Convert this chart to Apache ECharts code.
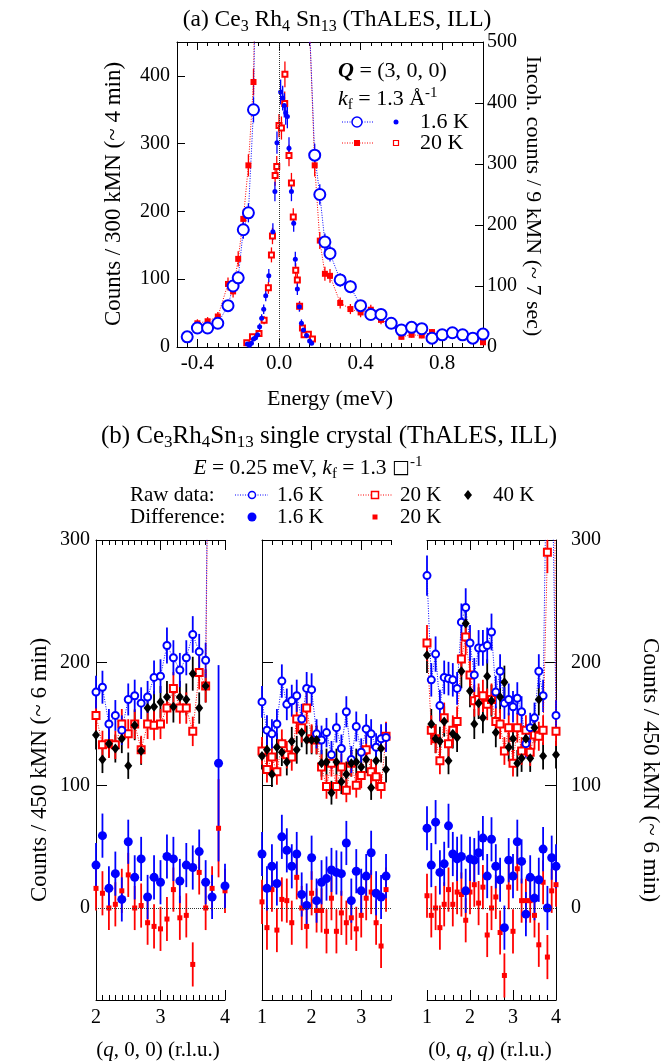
<!DOCTYPE html>
<html>
<head>
<meta charset="utf-8">
<script src="https://cdn.jsdelivr.net/npm/echarts@6/dist/echarts.min.js"></script>
<style>
  html, body { margin: 0; padding: 0; background: #fff; }
  #chart { width: 664px; height: 1063px; }
</style>
</head>
<body>
<div id="chart"></div>
<script>
const SERIF = '"Liberation Serif", "DejaVu Serif", serif';
const BLUE = '#0000ff', RED = '#ff0000', BLACK = '#000000';

// ---------- panel (a): energy scans at Q = (3,0,0) ----------
// broad signal, left axis (counts / 300 kMN)
const eBroad16 = [-0.45, -0.40, -0.35, -0.30, -0.25, -0.225, -0.20, -0.175, -0.15, -0.125, -0.10, 0.15, 0.175, 0.20, 0.225, 0.25, 0.30, 0.35, 0.40, 0.45, 0.50, 0.55, 0.60, 0.65, 0.70, 0.75, 0.80, 0.85, 0.90, 0.95, 1.00];
const vBroad16 = [15, 28, 28, 35, 61, 90, 102, 173, 198, 350, 900, 470, 283, 225, 155, 138, 99, 89, 61, 48, 48, 35, 25, 29, 27, 13, 18, 21, 18, 13, 19];
const eBroad20 = [-0.40, -0.35, -0.30, -0.25, -0.225, -0.20, -0.175, -0.15, -0.125, -0.10, 0.15, 0.175, 0.20, 0.225, 0.25, 0.30, 0.35, 0.40, 0.45, 0.50, 0.55, 0.60, 0.65, 0.70, 0.75, 0.80, 0.85, 0.90, 0.95, 1.00];
const vBroad20 = [35, 38, 45, 93, 82, 130, 189, 268, 391, 900, 470, 268, 157, 108, 105, 65, 56, 51, 55, 40, 33, 15, 18, 17, 22, 22, 20, 18, 16, 7];
// narrow incoherent scan, right axis (counts / 9 kMN)
const eNarrow16 = [-0.155, -0.145, -0.135, -0.125, -0.115, -0.105, -0.095, -0.085, -0.075, -0.065, -0.050, -0.030, -0.020, -0.010, 0.008, 0.018, 0.026, 0.033, 0.041, 0.049, 0.061, 0.072, 0.080, 0.090, 0.100, 0.110, 0.120, 0.135, 0.150, 0.160];
const vNarrow16 = [5, 3, 6, 13, 15, 20, 33, 47, 62, 84, 117, 189, 255, 335, 418, 408, 396, 384, 378, 326, 255, 203, 144, 95, 66, 39, 28, 19, 10, 6];
const eNarrow20 = [-0.158, -0.130, -0.098, -0.073, -0.052, -0.037, -0.032, -0.019, -0.011, 0.000, 0.012, 0.028, 0.029, 0.049, 0.061, 0.070, 0.082, 0.090, 0.101, 0.115, 0.123, 0.144, 0.164];
const vNarrow20 = [7, 17, 22, 44, 97, 151, 182, 281, 296, 363, 359, 399, 447, 314, 269, 213, 126, 110, 67, 31, 20, 21, 13];

// ---------- panel (b): constant-energy q scans ----------
const qLeftRaw = [2.0, 2.1, 2.2, 2.3, 2.4, 2.5, 2.6, 2.7, 2.8, 2.9, 3.0, 3.1, 3.2, 3.3, 3.4, 3.5, 3.6, 3.7, 3.8];
const raw16Left = [176, 180, 150, 157, 145, 170, 173, 167, 172, 188, 189, 214, 204, 194, 204, 223, 209, 202, 700];
const raw20Left = [157, 133, 134, 133, 150, 142, 150, 129, 150, 149, 150, 163, 179, 163, 163, 144, 192, 181, 700];
const raw40Left = [141, 121, 134, 130, 138, 116, 149, 128, 163, 164, 168, 172, 164, 172, 170, 191, 163, 181, null];
const qLeftDiff = [2.0, 2.1, 2.2, 2.3, 2.4, 2.5, 2.6, 2.7, 2.8, 2.9, 3.0, 3.1, 3.2, 3.3, 3.4, 3.5, 3.6, 3.7, 3.8, 3.9, 4.0];
const diff16Left = [35, 59, 16, 28, 7, 54, 25, 40, 9, 25, 21, 42, 40, 22, 35, 33, 46, 21, 9, 118, 18];
const diff20Left = [16, 12, 0, 3, 14, 27, 0, 2, -12, -15, -17, -9, 15, -8, -6, -46, 29, 0, 16, 65, 14];

const qMid = [1.0, 1.1, 1.2, 1.3, 1.4, 1.5, 1.6, 1.7, 1.8, 1.9, 2.0, 2.1, 2.2, 2.3, 2.4, 2.5, 2.6, 2.7, 2.8, 2.9, 3.0, 3.1, 3.2, 3.3, 3.4, 3.5];
const raw16Mid = [168, 145, 142, 150, 185, 166, 169, 173, 154, 179, 178, 142, 137, 143, 125, 147, 130, 160, 121, 148, 127, 146, 142, 131, 138, 139];
const raw20Mid = [128, 113, 123, 111, 134, 125, 123, 154, 147, 163, 138, 137, 115, 99, 118, 99, 115, 96, 118, 100, 108, 129, 111, 107, 99, 140];
const raw40Mid = [124, 129, 109, 131, 127, 119, 136, 129, 143, 137, 137, 137, 118, 119, 94, 119, 103, 109, 118, 119, 115, 121, 98, 120, 130, 113];
const diff16Mid = [44, 16, 34, 20, 58, 47, 34, 44, 11, 2, 41, 6, 21, 24, 31, 29, 28, 53, 6, 30, 14, 26, 45, 12, 9, 26];
const diff20Mid = [5, -16, 15, -18, 7, 6, -12, 25, 0, -15, 12, -2, -2, -19, 8, -19, -4, -12, -8, -17, -6, 8, 13, -12, -31, 15];

const qRight = [1.0, 1.1, 1.2, 1.3, 1.4, 1.5, 1.6, 1.7, 1.8, 1.9, 2.0, 2.1, 2.2, 2.3, 2.4, 2.5, 2.6, 2.7, 2.8, 2.9, 3.0, 3.1, 3.2, 3.3, 3.4, 3.5, 3.6, 3.7, 3.8, 3.9, 4.0];
const raw16Right = [271, 186, 207, 165, 188, 187, 186, 179, 233, 245, 216, 190, 212, 212, 214, 225, 176, 193, 167, 170, 164, 171, 160, 134, 147, 155, 193, 173, 420, 390, 157];
const raw20Right = [216, 145, 138, 120, 155, 134, 145, 152, 203, 221, 190, 169, 170, 173, 166, 170, 152, 150, 128, 147, 118, 147, 128, 145, 127, 141, 140, 145, 290, 800, 144];
const raw40Right = [206, 150, 138, 136, 152, 120, 142, 139, 193, 232, 177, 150, 167, 155, 189, 169, 143, 172, 184, 131, 138, 118, 122, 138, 122, 147, 170, 124, null, null, 125];
const diff16Right = [65, 35, 70, 29, 36, 67, 44, 40, 42, 14, 40, 39, 45, 57, 26, 56, 34, 23, -16, 39, 26, 54, 38, -5, 25, 8, 23, 48, 0, 41, 34];
const diff20Right = [10, -6, 0, -16, 3, 15, 3, 13, 11, -10, 13, 19, 4, 17, -22, 0, 9, -20, -55, 17, -19, 32, 6, 6, 6, -6, -30, 21, -40, 14, 19];

const DIFF_ERR = 18;

// ---------- helpers ----------
function zip(xs, ys) {
  const out = [];
  xs.forEach((x, i) => { if (ys[i] != null) out.push([x, ys[i]]); });
  return out;
}
function sqrtErr(ys) { return ys.map(v => v == null ? null : Math.sqrt(Math.abs(v))); }
function constErr(ys, e) { return ys.map(() => e); }

function errBars(xs, ys, errs, color, xi, yi, lw) {
  const data = [];
  xs.forEach((x, i) => { if (ys[i] != null) data.push([x, ys[i] - errs[i], ys[i] + errs[i]]); });
  return {
    type: 'custom', xAxisIndex: xi, yAxisIndex: yi, silent: true, z: 2,
    encode: { x: 0, y: [1, 2] },
    renderItem: function (params, api) {
      const cs = params.coordSys;
      const lo = api.coord([api.value(0), api.value(1)]);
      const hi = api.coord([api.value(0), api.value(2)]);
      if (lo[0] < cs.x - 1 || lo[0] > cs.x + cs.width + 1) return null;
      const cl = y => Math.min(Math.max(y, cs.y), cs.y + cs.height);
      return {
        type: 'line',
        shape: { x1: lo[0], y1: cl(lo[1]), x2: lo[0], y2: cl(hi[1]) },
        style: { stroke: color, lineWidth: lw }
      };
    },
    data: data
  };
}

function dotLine(xs, ys, color, symbol, size, xi, yi, bw) {
  return {
    type: 'line', xAxisIndex: xi, yAxisIndex: yi, data: zip(xs, ys),
    symbol: symbol, symbolSize: size, showAllSymbol: true, clip: true, z: 3,
    lineStyle: { color: color, width: 1, type: [1, 1.5] },
    itemStyle: { color: color, borderColor: color, borderWidth: bw },
    emphasis: { disabled: true }, silent: true
  };
}

function dots(xs, ys, color, symbol, size, xi, yi, bw) {
  return {
    type: 'scatter', xAxisIndex: xi, yAxisIndex: yi, data: zip(xs, ys),
    symbol: symbol, symbolSize: size, clip: true, z: 4,
    itemStyle: { color: color, borderColor: color, borderWidth: bw, opacity: 1 },
    emphasis: { disabled: true }, silent: true
  };
}

const tickLine = { color: BLACK, width: 1 };

function xAxes(gi, min, max, minor, majors, fmt, majLen, minLen, fs, margin) {
  const base = { gridIndex: gi, type: 'value', min: min, max: max, splitLine: { show: false } };
  return [
    Object.assign({}, base, {
      position: 'bottom',
      axisLine: { show: true, onZero: false, lineStyle: tickLine },
      axisTick: { show: true, inside: true, length: majLen, customValues: majors, lineStyle: tickLine },
      axisLabel: { show: true, customValues: majors, formatter: fmt, color: BLACK, fontSize: fs, fontFamily: SERIF, margin: margin }
    }),
    Object.assign({}, base, {
      position: 'bottom', interval: minor,
      axisLine: { show: false, onZero: false },
      axisTick: { show: true, inside: true, length: minLen, lineStyle: tickLine },
      axisLabel: { show: false }
    }),
    Object.assign({}, base, {
      position: 'top',
      axisLine: { show: true, onZero: false, lineStyle: tickLine },
      axisTick: { show: true, inside: true, length: majLen, customValues: majors, lineStyle: tickLine },
      axisLabel: { show: false }
    }),
    Object.assign({}, base, {
      position: 'top', interval: minor,
      axisLine: { show: false, onZero: false },
      axisTick: { show: true, inside: true, length: minLen, lineStyle: tickLine },
      axisLabel: { show: false }
    })
  ];
}

function yB(gi, pos, showLabels) {
  return {
    gridIndex: gi, type: 'value', position: pos, min: -75, max: 300,
    splitLine: { show: false },
    axisLine: { show: true, onZero: false, lineStyle: tickLine },
    axisTick: { show: true, inside: true, length: 11, customValues: [100, 200], lineStyle: tickLine },
    axisLabel: { show: showLabels, customValues: [0, 100, 200, 300], color: BLACK, fontSize: 20, fontFamily: SERIF, margin: pos === 'left' ? 6 : 15 }
  };
}

const qFmt = v => String(Math.round(v));

const xAxis = [].concat(
  xAxes(0, -0.5, 1.0, 0.05, [-0.4, 0, 0.4, 0.8], v => v.toFixed(1), 8, 4, 21, 6),
  xAxes(1, 2, 4, 0.1, [2, 3, 4], qFmt, 10, 5, 20, 8),
  xAxes(2, 1, 3.6, 0.2, [1, 2, 3], qFmt, 10, 5, 20, 8),
  xAxes(3, 1, 4, 0.2, [1, 2, 3, 4], qFmt, 10, 5, 20, 8)
);

const yAxis = [
  {
    gridIndex: 0, type: 'value', position: 'left', min: 0, max: 450, interval: 100,
    splitLine: { show: false },
    axisLine: { show: true, onZero: false, lineStyle: tickLine },
    axisTick: { show: true, inside: true, length: 8, lineStyle: tickLine },
    axisLabel: { color: BLACK, fontSize: 20, fontFamily: SERIF, margin: 7, showMaxLabel: false }
  },
  {
    gridIndex: 0, type: 'value', position: 'right', min: 0, max: 500, interval: 100,
    splitLine: { show: false },
    axisLine: { show: true, onZero: false, lineStyle: tickLine },
    axisTick: { show: true, inside: true, length: 8, lineStyle: tickLine },
    axisLabel: { color: BLACK, fontSize: 20, fontFamily: SERIF, margin: 4 }
  },
  yB(1, 'left', true),
  yB(2, 'left', false),
  yB(3, 'right', true)
];

const zeroLine = {
  silent: true, symbol: 'none', label: { show: false },
  lineStyle: { color: '#333', type: [1, 1], width: 1 },
  data: [{ yAxis: 0 }]
};

function subpanel(xi, yi, qRaw, r16, r20, r40, qDiff, d16, d20, e16, e20) {
  const s40 = dots(qRaw, r40, BLACK, 'diamond', [8, 10], xi, yi, 0);
  s40.markLine = zeroLine;
  return [
    errBars(qRaw, r40, sqrtErr(r40), BLACK, xi, yi, 1.8),
    errBars(qRaw, r20, sqrtErr(r20), RED, xi, yi, 1.8),
    errBars(qRaw, r16, sqrtErr(r16), BLUE, xi, yi, 1.8),
    errBars(qDiff, d20, e20, RED, xi, yi, 1.8),
    errBars(qDiff, d16, e16, BLUE, xi, yi, 1.8),
    dotLine(qRaw, r20, RED, 'emptyRect', 7, xi, yi, 1.5),
    s40,
    dotLine(qRaw, r16, BLUE, 'emptyCircle', 7, xi, yi, 1.5),
    dots(qDiff, d20, RED, 'rect', 5, xi, yi, 0),
    dots(qDiff, d16, BLUE, 'circle', 9, xi, yi, 0)
  ];
}

// larger error bars for the q = 3.9 point of the (q,0,0) scan
const e16Left = constErr(diff16Left, DIFF_ERR); e16Left[19] = 80;
const e20Left = constErr(diff20Left, DIFF_ERR); e20Left[19] = 40;

const n16 = dots(eNarrow16, vNarrow16, BLUE, 'circle', 5, 0, 1, 0);
n16.markLine = {
  silent: true, symbol: 'none', label: { show: false },
  lineStyle: { color: '#333', type: [1, 1], width: 1 },
  data: [{ xAxis: 0 }]
};

const series = [
  errBars(eBroad20, vBroad20, sqrtErr(vBroad20), RED, 0, 0, 1.3),
  errBars(eBroad16, vBroad16, sqrtErr(vBroad16), BLUE, 0, 0, 1.3),
  errBars(eNarrow20, vNarrow20, sqrtErr(vNarrow20), RED, 0, 1, 1.3),
  errBars(eNarrow16, vNarrow16, sqrtErr(vNarrow16), BLUE, 0, 1, 1.3),
  dotLine(eBroad20, vBroad20, RED, 'rect', 6, 0, 0, 0),
  dotLine(eBroad16, vBroad16, BLUE, 'emptyCircle', 11, 0, 0, 1.5),
  dots(eNarrow20, vNarrow20, RED, 'emptyRect', 5, 0, 1, 1.2),
  n16
].concat(
  subpanel(4, 2, qLeftRaw, raw16Left, raw20Left, raw40Left, qLeftDiff, diff16Left, diff20Left, e16Left, e20Left),
  subpanel(8, 3, qMid, raw16Mid, raw20Mid, raw40Mid, qMid, diff16Mid, diff20Mid, constErr(qMid, DIFF_ERR), constErr(qMid, DIFF_ERR)),
  subpanel(12, 4, qRight, raw16Right, raw20Right, raw40Right, qRight, diff16Right, diff20Right, constErr(qRight, DIFF_ERR), constErr(qRight, DIFF_ERR))
);

// ---------- text & legends ----------
function richSet(fs) {
  const sub = Math.round(fs * 0.68), pad = Math.round(fs * 0.55);
  const f = { fontFamily: SERIF, fontSize: fs, verticalAlign: 'middle', fill: BLACK };
  return {
    n: Object.assign({}, f),
    i: Object.assign({}, f, { fontStyle: 'italic' }),
    b: Object.assign({}, f, { fontStyle: 'italic', fontWeight: 'bold' }),
    s: Object.assign({}, f, { fontSize: sub, padding: [pad, 0, 0, 0] }),
    p: Object.assign({}, f, { fontSize: sub, padding: [0, 0, pad, 0] }),
    x: Object.assign({}, f, { fontFamily: '"DejaVu Sans", sans-serif', fontSize: Math.round(fs * 0.9) })
  };
}
const G = [];
function txt(x, y, text, fs, align, rot, rich) {
  const style = {
    text: text, fill: BLACK, font: fs + 'px ' + SERIF,
    align: align, verticalAlign: 'middle', textAlign: align, textVerticalAlign: 'middle'
  };
  if (rich) style.rich = richSet(fs);
  G.push({ type: 'text', x: x, y: y, rotation: rot || 0, silent: true, style: style });
}
function dash(x1, x2, y, color) {
  G.push({ type: 'line', silent: true, shape: { x1: x1, y1: y, x2: x2, y2: y }, style: { stroke: color, lineWidth: 1, lineDash: [1, 1.5] } });
}
function circ(cx, cy, r, fill, stroke, lw) {
  G.push({ type: 'circle', silent: true, shape: { cx: cx, cy: cy, r: r }, style: { fill: fill, stroke: stroke, lineWidth: lw } });
}
function sq(cx, cy, s, fill, stroke, lw) {
  G.push({ type: 'rect', silent: true, shape: { x: cx - s / 2, y: cy - s / 2, width: s, height: s }, style: { fill: fill, stroke: stroke, lineWidth: lw } });
}

// panel (a)
txt(337, 20, '{n|(a) Ce}{s|3}{n| Rh}{s|4}{n| Sn}{s|13}{n| (ThALES, ILL)}', 23.5, 'center', 0, true);
txt(338, 71, '{b|Q}{n| = (3, 0, 0)}', 22, 'left', 0, true);
txt(338, 99, '{i|k}{s|f}{n| = 1.3 Å}{p|-1}', 22, 'left', 0, true);
dash(342, 373, 122, BLUE); circ(357, 122, 5, '#fff', BLUE, 1.5); circ(396, 122, 2.5, BLUE, null, 0);
txt(420, 122, '1.6 K', 22, 'left');
dash(342, 373, 143, RED); sq(357, 143, 6, RED, null, 0); sq(396, 143, 5, '#fff', RED, 1.2);
txt(420, 143, '20 K', 22, 'left');
txt(114, 194, 'Counts / 300 kMN (~ 4 min)', 23, 'center', Math.PI / 2);
txt(533, 196, 'Incoh. counts / 9 kMN (~ 7 sec)', 22, 'center', -Math.PI / 2);
txt(330, 399, 'Energy (meV)', 22, 'center');

// panel (b)
txt(329, 436, '{n|(b) Ce}{s|3}{n|Rh}{s|4}{n|Sn}{s|13}{n| single crystal (ThALES, ILL)}', 25, 'center', 0, true);
txt(308, 468, '{i|E}{n| = 0.25 meV, }{i|k}{s|f}{n| = 1.3 }{x|□}{p|-1}', 21.5, 'center', 0, true);
txt(130, 495, 'Raw data:', 21, 'left');
txt(130, 517, 'Difference:', 21, 'left');
dash(235, 268, 495, BLUE); circ(252, 495, 3.5, '#fff', BLUE, 1.5); txt(277, 495, '1.6 K', 21, 'left');
dash(358, 392, 495, RED); sq(375, 495, 7, '#fff', RED, 1.5); txt(400, 495, '20 K', 21, 'left');
G.push({ type: 'polygon', silent: true, shape: { points: [[468, 490], [472, 495], [468, 500], [464, 495]] }, style: { fill: BLACK } });
txt(493, 495, '40 K', 21, 'left');
circ(252, 517, 4.5, BLUE, null, 0); txt(277, 517, '1.6 K', 21, 'left');
sq(375, 517, 5, RED, null, 0); txt(400, 517, '20 K', 21, 'left');
txt(40, 770, 'Counts / 450 kMN (~ 6 min)', 23, 'center', Math.PI / 2);
txt(650, 770, 'Counts / 450 kMN (~ 6 min)', 23, 'center', -Math.PI / 2);
txt(158, 1050, '{n|(}{i|q}{n|, 0, 0) (r.l.u.)}', 21, 'center', 0, true);
txt(490, 1050, '{n|(0, }{i|q}{n|, }{i|q}{n|) (r.l.u.)}', 21, 'center', 0, true);

const chart = echarts.init(document.getElementById('chart'), null, { renderer: 'canvas' });
chart.setOption({
  animation: false,
  backgroundColor: '#ffffff',
  textStyle: { fontFamily: SERIF },
  grid: [
    { left: 177, top: 42, width: 306, height: 305 },
    { left: 96, top: 540, width: 129, height: 460 },
    { left: 262, top: 540, width: 129, height: 460 },
    { left: 427, top: 540, width: 129, height: 460 }
  ],
  xAxis: xAxis,
  yAxis: yAxis,
  series: series,
  graphic: { elements: G }
});
</script>
</body>
</html>
